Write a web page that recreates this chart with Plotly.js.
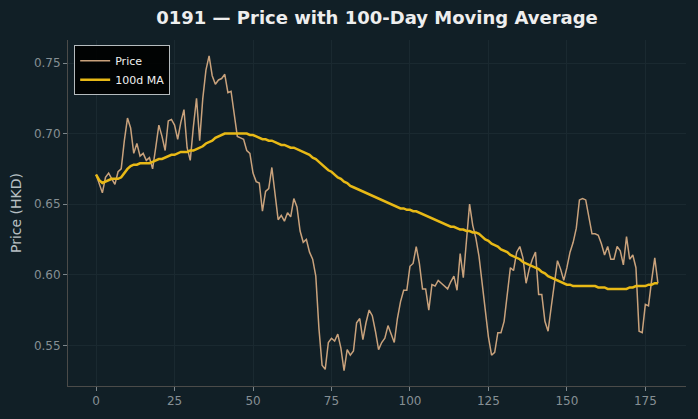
<!DOCTYPE html>
<html>
<head>
<meta charset="utf-8">
<script src="https://cdn.plot.ly/plotly-3.0.1.min.js"></script>
<style>
  html, body { margin: 0; padding: 0; background: #111f26; }
  #chart { width: 698px; height: 419px; }
</style>
</head>
<body>
<div id="chart"></div>
<script>
// Daily closing price of 0191 (HKD), trading days 0..179
const price = [
  0.671, 0.664, 0.658, 0.669, 0.672, 0.668, 0.664, 0.673, 0.675, 0.695,
  0.711, 0.704, 0.686, 0.693, 0.684, 0.686, 0.681, 0.683, 0.675, 0.690,
  0.706, 0.698, 0.688, 0.709, 0.710, 0.706, 0.696, 0.708, 0.717, 0.690,
  0.681, 0.705, 0.725, 0.695, 0.725, 0.745, 0.755, 0.741, 0.735, 0.738,
  0.739, 0.742, 0.729, 0.730, 0.712, 0.698, 0.697, 0.696, 0.688, 0.686,
  0.672, 0.666, 0.665, 0.645, 0.659, 0.661, 0.676, 0.656, 0.639, 0.642,
  0.638, 0.644, 0.641, 0.654, 0.648, 0.631, 0.623, 0.625, 0.616, 0.611,
  0.599, 0.562, 0.536, 0.533, 0.552, 0.555, 0.553, 0.558, 0.548, 0.532,
  0.547, 0.543, 0.546, 0.566, 0.569, 0.554, 0.566, 0.575, 0.571, 0.560,
  0.547, 0.552, 0.555, 0.564, 0.558, 0.552, 0.569, 0.581, 0.589, 0.589,
  0.606, 0.608, 0.620, 0.608, 0.590, 0.590, 0.575, 0.593, 0.592, 0.596,
  0.594, 0.592, 0.590, 0.595, 0.599, 0.589, 0.615, 0.598, 0.623, 0.650,
  0.635, 0.626, 0.613, 0.594, 0.573, 0.556, 0.543, 0.545, 0.559, 0.559,
  0.567, 0.587, 0.605, 0.603, 0.616, 0.620, 0.612, 0.594, 0.604, 0.611,
  0.616, 0.586, 0.586, 0.567, 0.560, 0.577, 0.594, 0.610, 0.604, 0.596,
  0.605, 0.616, 0.623, 0.633, 0.653, 0.654, 0.653, 0.641, 0.629, 0.629,
  0.628, 0.622, 0.614, 0.620, 0.611, 0.611, 0.620, 0.617, 0.607, 0.627,
  0.611, 0.614, 0.605, 0.560, 0.559, 0.579, 0.578, 0.596, 0.612, 0.594
];

// 100-day moving average of the closing price
const ma100 = [
  0.671, 0.667, 0.665, 0.666, 0.667, 0.668, 0.668, 0.668, 0.669, 0.672,
  0.675, 0.677, 0.678, 0.678, 0.679, 0.679, 0.679, 0.679, 0.680, 0.681,
  0.682, 0.682, 0.683, 0.684, 0.685, 0.685, 0.686, 0.687, 0.687, 0.687,
  0.688, 0.688, 0.689, 0.690, 0.691, 0.693, 0.694, 0.695, 0.697, 0.698,
  0.699, 0.700, 0.700, 0.700, 0.700, 0.700, 0.700, 0.700, 0.700, 0.699,
  0.699, 0.698, 0.697, 0.696, 0.696, 0.695, 0.695, 0.694, 0.693, 0.692,
  0.692, 0.691, 0.690, 0.690, 0.689, 0.688, 0.687, 0.686, 0.685, 0.683,
  0.682, 0.680, 0.678, 0.676, 0.674, 0.673, 0.671, 0.669, 0.668, 0.666,
  0.665, 0.663, 0.662, 0.661, 0.660, 0.659, 0.658, 0.657, 0.656, 0.655,
  0.654, 0.653, 0.652, 0.651, 0.650, 0.649, 0.648, 0.647, 0.647, 0.646,
  0.646, 0.645, 0.645, 0.644, 0.643, 0.642, 0.641, 0.640, 0.639, 0.638,
  0.637, 0.636, 0.635, 0.634, 0.634, 0.633, 0.632, 0.632, 0.631, 0.631,
  0.630, 0.630, 0.629, 0.627, 0.625, 0.624, 0.622, 0.621, 0.620, 0.618,
  0.617, 0.616, 0.614, 0.613, 0.612, 0.611, 0.609, 0.608, 0.607, 0.606,
  0.605, 0.604, 0.602, 0.601, 0.599, 0.598, 0.597, 0.596, 0.595, 0.594,
  0.593, 0.593, 0.592, 0.592, 0.592, 0.592, 0.592, 0.592, 0.592, 0.592,
  0.591, 0.591, 0.591, 0.590, 0.590, 0.590, 0.590, 0.590, 0.590, 0.590,
  0.591, 0.591, 0.592, 0.592, 0.592, 0.592, 0.593, 0.593, 0.594, 0.594
];

const days = price.map((_, i) => i);

const xTicks = [0, 25, 50, 75, 100, 125, 150, 175];
const yTicks = [0.55, 0.60, 0.65, 0.70, 0.75];

const BG = '#111f26';
const FONT = 'DejaVu Sans, sans-serif';

const traces = [
  {
    x: days, y: price, name: 'Price', type: 'scatter', mode: 'lines',
    line: { color: '#c9a27c', width: 1.5 }
  },
  {
    x: days, y: ma100, name: '100d MA', type: 'scatter', mode: 'lines',
    line: { color: '#e8b916', width: 2.5 }
  }
];

const axisCommon = {
  showline: true, linecolor: '#4b4b49', linewidth: 1,
  ticks: 'outside', ticklen: 4, tickcolor: '#7c868b', tickwidth: 1,
  showgrid: true, gridcolor: '#1a2930', gridwidth: 1,
  zeroline: false, mirror: false,
  tickfont: { family: FONT, size: 12, color: '#868f94' }
};

const layout = {
  width: 698, height: 419,
  paper_bgcolor: BG, plot_bgcolor: BG,
  margin: { l: 68, r: 12, t: 40, b: 33 },
  font: { family: FONT, color: '#d0d0d0' },
  title: {
    text: '<b>0191 — Price with 100-Day Moving Average</b>',
    font: { family: FONT, size: 18, color: '#eeeeee' },
    xref: 'paper', x: 0.5, xanchor: 'center',
    yref: 'container', y: 0.957, yanchor: 'middle'
  },
  xaxis: Object.assign({}, axisCommon, {
    range: [-8.95, 187.95], tickvals: xTicks,
    ticktext: xTicks.map(String)
  }),
  yaxis: Object.assign({}, axisCommon, {
    range: [0.5212, 0.7663], tickvals: yTicks,
    ticktext: yTicks.map(v => v.toFixed(2)),
    title: { text: 'Price (HKD)', font: { family: FONT, size: 14, color: '#b8c0c4' }, standoff: 8 }
  }),
  legend: {
    x: 0.01, y: 0.985, xanchor: 'left', yanchor: 'top',
    bgcolor: 'rgba(0,0,0,0.9)', bordercolor: '#b5bbbe', borderwidth: 1,
    font: { family: FONT, size: 11, color: '#f0f0f0' },
    tracegroupgap: 0, itemwidth: 30
  },
  showlegend: true
};

Plotly.newPlot('chart', traces, layout, { displayModeBar: false, staticPlot: true });
</script>
</body>
</html>
